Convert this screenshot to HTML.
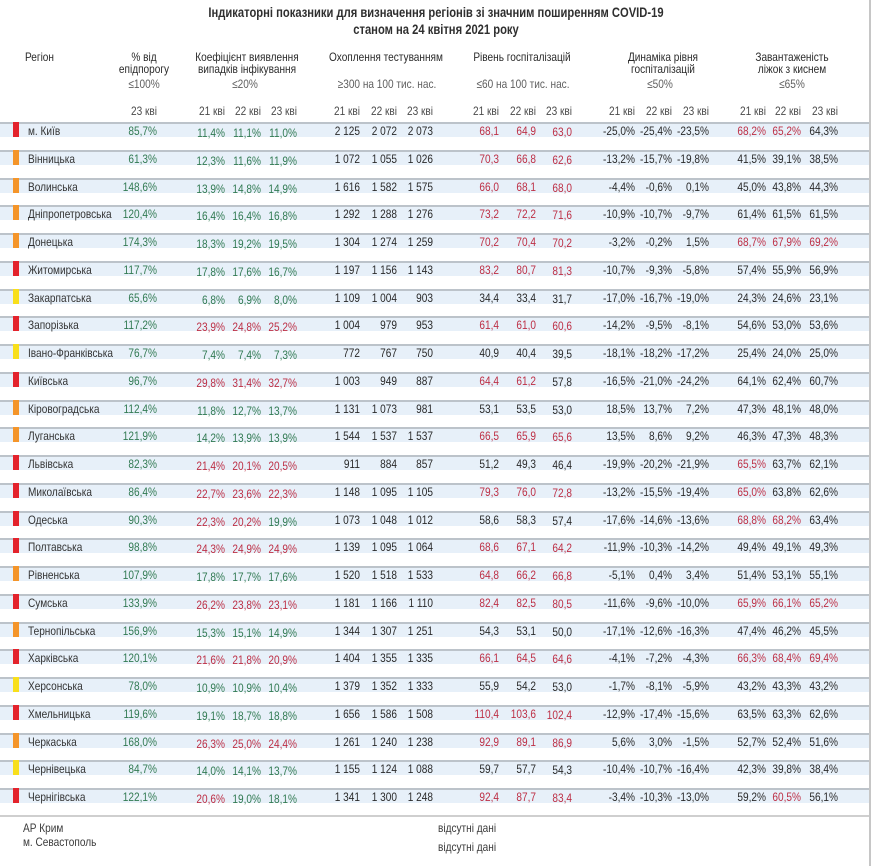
<!DOCTYPE html>
<html><head><meta charset="utf-8">
<style>
*{margin:0;padding:0;box-sizing:border-box}
body{width:872px;height:866px;background:#fff;position:relative;overflow:hidden;font-family:"Liberation Sans",Arial,"Noto Sans CJK SC",sans-serif;font-size:12px;color:#2a2a2a}
.t{position:absolute;left:0;width:872px;text-align:center;font-weight:bold;font-size:14px;line-height:17px;color:#2f2f2f;transform:scaleX(0.8);transform-origin:436px 0}
.h{position:absolute;width:200px;text-align:center;line-height:12px;color:#2a2a2a;transform:scaleX(0.84);transform-origin:center}
.th{position:absolute;width:200px;text-align:center;line-height:14px;color:#5f5f5f;transform:scaleX(0.84);transform-origin:center}
.k{position:absolute;top:104px;width:60px;text-align:right;line-height:14px;color:#4a4a4a;transform:scaleX(0.84);transform-origin:right}
.r{position:absolute;left:0;width:870px;height:15px;border-top:2px solid #bcc3ca;background:#e7f0f9;line-height:14px}
.r i{position:absolute;left:13px;top:-2px;width:6px;height:15px}
.R{background:#e3232c}.O{background:#f4952a}.Y{background:#f8df1c}
.r span{position:absolute;top:0;width:60px;text-align:right;white-space:nowrap;transform:scaleX(0.84);transform-origin:right}
.r span.n{left:28px;width:120px;text-align:left;color:#333;transform-origin:left}
.p{left:97px;color:#317a52}
.a1{left:165px;top:2px!important}.a2{left:201px;top:2px!important}.a3{left:237px;top:2px!important}
.t1{left:300px}.t2{left:337px}.t3{left:373px}
.h1{left:439px}.h2{left:476px}.h3{left:512px;top:1px!important}
.d1{left:575px}.d2{left:612px}.d3{left:649px}
.b1{left:706px}.b2{left:741px}.b3{left:778px}
.g{color:#317a52}.x{color:#bd2f45}
.f{position:absolute;line-height:14px;color:#3a3a3a;transform:scaleX(0.84);transform-origin:left}
</style></head><body>
<div class="t" style="top:4px">Індикаторні показники для визначення регіонів зі значним поширенням COVID-19</div>
<div class="t" style="top:21px">станом на 24 квітня 2021 року</div>

<div class="f" style="left:25px;top:50px;color:#2a2a2a">Регіон</div>
<div class="h" style="left:44px;top:51px">% від<br>епідпорогу</div>
<div class="h" style="left:147px;top:51px">Коефіцієнт виявлення<br>випадків інфікування</div>
<div class="h" style="left:286px;top:51px">Охоплення тестуванням</div>
<div class="h" style="left:422px;top:51px">Рівень госпіталізацій</div>
<div class="h" style="left:563px;top:51px">Динаміка рівня<br>госпіталізацій</div>
<div class="h" style="left:692px;top:51px">Завантаженість<br>ліжок з киснем</div>

<div class="th" style="left:44px;top:77px">≤100%</div>
<div class="th" style="left:145px;top:77px">≤20%</div>
<div class="th" style="left:287px;top:77px">≥300 на 100 тис. нас.</div>
<div class="th" style="left:423px;top:77px">≤60 на 100 тис. нас.</div>
<div class="th" style="left:560px;top:77px">≤50%</div>
<div class="th" style="left:692px;top:77px">≤65%</div>

<div class="k" style="left:97px">23 кві</div>
<div class="k" style="left:165px">21 кві</div><div class="k" style="left:201px">22 кві</div><div class="k" style="left:237px">23 кві</div>
<div class="k" style="left:300px">21 кві</div><div class="k" style="left:337px">22 кві</div><div class="k" style="left:373px">23 кві</div>
<div class="k" style="left:439px">21 кві</div><div class="k" style="left:476px">22 кві</div><div class="k" style="left:512px">23 кві</div>
<div class="k" style="left:575px">21 кві</div><div class="k" style="left:612px">22 кві</div><div class="k" style="left:649px">23 кві</div>
<div class="k" style="left:706px">21 кві</div><div class="k" style="left:741px">22 кві</div><div class="k" style="left:778px">23 кві</div>

<div class="r" style="top:122px"><i class="R"></i><span class="n">м. Київ</span><span class="p">85,7%</span><span class="a1 g">11,4%</span><span class="a2 g">11,1%</span><span class="a3 g">11,0%</span><span class="t1">2 125</span><span class="t2">2 072</span><span class="t3">2 073</span><span class="h1 x">68,1</span><span class="h2 x">64,9</span><span class="h3 x">63,0</span><span class="d1">-25,0%</span><span class="d2">-25,4%</span><span class="d3">-23,5%</span><span class="b1 x">68,2%</span><span class="b2 x">65,2%</span><span class="b3">64,3%</span></div>
<div class="r" style="top:150px"><i class="O"></i><span class="n">Вінницька</span><span class="p">61,3%</span><span class="a1 g">12,3%</span><span class="a2 g">11,6%</span><span class="a3 g">11,9%</span><span class="t1">1 072</span><span class="t2">1 055</span><span class="t3">1 026</span><span class="h1 x">70,3</span><span class="h2 x">66,8</span><span class="h3 x">62,6</span><span class="d1">-13,2%</span><span class="d2">-15,7%</span><span class="d3">-19,8%</span><span class="b1">41,5%</span><span class="b2">39,1%</span><span class="b3">38,5%</span></div>
<div class="r" style="top:178px"><i class="O"></i><span class="n">Волинська</span><span class="p">148,6%</span><span class="a1 g">13,9%</span><span class="a2 g">14,8%</span><span class="a3 g">14,9%</span><span class="t1">1 616</span><span class="t2">1 582</span><span class="t3">1 575</span><span class="h1 x">66,0</span><span class="h2 x">68,1</span><span class="h3 x">68,0</span><span class="d1">-4,4%</span><span class="d2">-0,6%</span><span class="d3">0,1%</span><span class="b1">45,0%</span><span class="b2">43,8%</span><span class="b3">44,3%</span></div>
<div class="r" style="top:205px"><i class="O"></i><span class="n">Дніпропетровська</span><span class="p">120,4%</span><span class="a1 g">16,4%</span><span class="a2 g">16,4%</span><span class="a3 g">16,8%</span><span class="t1">1 292</span><span class="t2">1 288</span><span class="t3">1 276</span><span class="h1 x">73,2</span><span class="h2 x">72,2</span><span class="h3 x">71,6</span><span class="d1">-10,9%</span><span class="d2">-10,7%</span><span class="d3">-9,7%</span><span class="b1">61,4%</span><span class="b2">61,5%</span><span class="b3">61,5%</span></div>
<div class="r" style="top:233px"><i class="O"></i><span class="n">Донецька</span><span class="p">174,3%</span><span class="a1 g">18,3%</span><span class="a2 g">19,2%</span><span class="a3 g">19,5%</span><span class="t1">1 304</span><span class="t2">1 274</span><span class="t3">1 259</span><span class="h1 x">70,2</span><span class="h2 x">70,4</span><span class="h3 x">70,2</span><span class="d1">-3,2%</span><span class="d2">-0,2%</span><span class="d3">1,5%</span><span class="b1 x">68,7%</span><span class="b2 x">67,9%</span><span class="b3 x">69,2%</span></div>
<div class="r" style="top:261px"><i class="R"></i><span class="n">Житомирська</span><span class="p">117,7%</span><span class="a1 g">17,8%</span><span class="a2 g">17,6%</span><span class="a3 g">16,7%</span><span class="t1">1 197</span><span class="t2">1 156</span><span class="t3">1 143</span><span class="h1 x">83,2</span><span class="h2 x">80,7</span><span class="h3 x">81,3</span><span class="d1">-10,7%</span><span class="d2">-9,3%</span><span class="d3">-5,8%</span><span class="b1">57,4%</span><span class="b2">55,9%</span><span class="b3">56,9%</span></div>
<div class="r" style="top:289px"><i class="Y"></i><span class="n">Закарпатська</span><span class="p">65,6%</span><span class="a1 g">6,8%</span><span class="a2 g">6,9%</span><span class="a3 g">8,0%</span><span class="t1">1 109</span><span class="t2">1 004</span><span class="t3">903</span><span class="h1">34,4</span><span class="h2">33,4</span><span class="h3">31,7</span><span class="d1">-17,0%</span><span class="d2">-16,7%</span><span class="d3">-19,0%</span><span class="b1">24,3%</span><span class="b2">24,6%</span><span class="b3">23,1%</span></div>
<div class="r" style="top:316px"><i class="R"></i><span class="n">Запорізька</span><span class="p">117,2%</span><span class="a1 x">23,9%</span><span class="a2 x">24,8%</span><span class="a3 x">25,2%</span><span class="t1">1 004</span><span class="t2">979</span><span class="t3">953</span><span class="h1 x">61,4</span><span class="h2 x">61,0</span><span class="h3 x">60,6</span><span class="d1">-14,2%</span><span class="d2">-9,5%</span><span class="d3">-8,1%</span><span class="b1">54,6%</span><span class="b2">53,0%</span><span class="b3">53,6%</span></div>
<div class="r" style="top:344px"><i class="Y"></i><span class="n">Івано-Франківська</span><span class="p">76,7%</span><span class="a1 g">7,4%</span><span class="a2 g">7,4%</span><span class="a3 g">7,3%</span><span class="t1">772</span><span class="t2">767</span><span class="t3">750</span><span class="h1">40,9</span><span class="h2">40,4</span><span class="h3">39,5</span><span class="d1">-18,1%</span><span class="d2">-18,2%</span><span class="d3">-17,2%</span><span class="b1">25,4%</span><span class="b2">24,0%</span><span class="b3">25,0%</span></div>
<div class="r" style="top:372px"><i class="R"></i><span class="n">Київська</span><span class="p">96,7%</span><span class="a1 x">29,8%</span><span class="a2 x">31,4%</span><span class="a3 x">32,7%</span><span class="t1">1 003</span><span class="t2">949</span><span class="t3">887</span><span class="h1 x">64,4</span><span class="h2 x">61,2</span><span class="h3">57,8</span><span class="d1">-16,5%</span><span class="d2">-21,0%</span><span class="d3">-24,2%</span><span class="b1">64,1%</span><span class="b2">62,4%</span><span class="b3">60,7%</span></div>
<div class="r" style="top:400px"><i class="O"></i><span class="n">Кіровоградська</span><span class="p">112,4%</span><span class="a1 g">11,8%</span><span class="a2 g">12,7%</span><span class="a3 g">13,7%</span><span class="t1">1 131</span><span class="t2">1 073</span><span class="t3">981</span><span class="h1">53,1</span><span class="h2">53,5</span><span class="h3">53,0</span><span class="d1">18,5%</span><span class="d2">13,7%</span><span class="d3">7,2%</span><span class="b1">47,3%</span><span class="b2">48,1%</span><span class="b3">48,0%</span></div>
<div class="r" style="top:427px"><i class="O"></i><span class="n">Луганська</span><span class="p">121,9%</span><span class="a1 g">14,2%</span><span class="a2 g">13,9%</span><span class="a3 g">13,9%</span><span class="t1">1 544</span><span class="t2">1 537</span><span class="t3">1 537</span><span class="h1 x">66,5</span><span class="h2 x">65,9</span><span class="h3 x">65,6</span><span class="d1">13,5%</span><span class="d2">8,6%</span><span class="d3">9,2%</span><span class="b1">46,3%</span><span class="b2">47,3%</span><span class="b3">48,3%</span></div>
<div class="r" style="top:455px"><i class="R"></i><span class="n">Львівська</span><span class="p">82,3%</span><span class="a1 x">21,4%</span><span class="a2 x">20,1%</span><span class="a3 x">20,5%</span><span class="t1">911</span><span class="t2">884</span><span class="t3">857</span><span class="h1">51,2</span><span class="h2">49,3</span><span class="h3">46,4</span><span class="d1">-19,9%</span><span class="d2">-20,2%</span><span class="d3">-21,9%</span><span class="b1 x">65,5%</span><span class="b2">63,7%</span><span class="b3">62,1%</span></div>
<div class="r" style="top:483px"><i class="R"></i><span class="n">Миколаївська</span><span class="p">86,4%</span><span class="a1 x">22,7%</span><span class="a2 x">23,6%</span><span class="a3 x">22,3%</span><span class="t1">1 148</span><span class="t2">1 095</span><span class="t3">1 105</span><span class="h1 x">79,3</span><span class="h2 x">76,0</span><span class="h3 x">72,8</span><span class="d1">-13,2%</span><span class="d2">-15,5%</span><span class="d3">-19,4%</span><span class="b1 x">65,0%</span><span class="b2">63,8%</span><span class="b3">62,6%</span></div>
<div class="r" style="top:511px"><i class="R"></i><span class="n">Одеська</span><span class="p">90,3%</span><span class="a1 x">22,3%</span><span class="a2 x">20,2%</span><span class="a3 g">19,9%</span><span class="t1">1 073</span><span class="t2">1 048</span><span class="t3">1 012</span><span class="h1">58,6</span><span class="h2">58,3</span><span class="h3">57,4</span><span class="d1">-17,6%</span><span class="d2">-14,6%</span><span class="d3">-13,6%</span><span class="b1 x">68,8%</span><span class="b2 x">68,2%</span><span class="b3">63,4%</span></div>
<div class="r" style="top:538px"><i class="R"></i><span class="n">Полтавська</span><span class="p">98,8%</span><span class="a1 x">24,3%</span><span class="a2 x">24,9%</span><span class="a3 x">24,9%</span><span class="t1">1 139</span><span class="t2">1 095</span><span class="t3">1 064</span><span class="h1 x">68,6</span><span class="h2 x">67,1</span><span class="h3 x">64,2</span><span class="d1">-11,9%</span><span class="d2">-10,3%</span><span class="d3">-14,2%</span><span class="b1">49,4%</span><span class="b2">49,1%</span><span class="b3">49,3%</span></div>
<div class="r" style="top:566px"><i class="O"></i><span class="n">Рівненська</span><span class="p">107,9%</span><span class="a1 g">17,8%</span><span class="a2 g">17,7%</span><span class="a3 g">17,6%</span><span class="t1">1 520</span><span class="t2">1 518</span><span class="t3">1 533</span><span class="h1 x">64,8</span><span class="h2 x">66,2</span><span class="h3 x">66,8</span><span class="d1">-5,1%</span><span class="d2">0,4%</span><span class="d3">3,4%</span><span class="b1">51,4%</span><span class="b2">53,1%</span><span class="b3">55,1%</span></div>
<div class="r" style="top:594px"><i class="R"></i><span class="n">Сумська</span><span class="p">133,9%</span><span class="a1 x">26,2%</span><span class="a2 x">23,8%</span><span class="a3 x">23,1%</span><span class="t1">1 181</span><span class="t2">1 166</span><span class="t3">1 110</span><span class="h1 x">82,4</span><span class="h2 x">82,5</span><span class="h3 x">80,5</span><span class="d1">-11,6%</span><span class="d2">-9,6%</span><span class="d3">-10,0%</span><span class="b1 x">65,9%</span><span class="b2 x">66,1%</span><span class="b3 x">65,2%</span></div>
<div class="r" style="top:622px"><i class="O"></i><span class="n">Тернопільська</span><span class="p">156,9%</span><span class="a1 g">15,3%</span><span class="a2 g">15,1%</span><span class="a3 g">14,9%</span><span class="t1">1 344</span><span class="t2">1 307</span><span class="t3">1 251</span><span class="h1">54,3</span><span class="h2">53,1</span><span class="h3">50,0</span><span class="d1">-17,1%</span><span class="d2">-12,6%</span><span class="d3">-16,3%</span><span class="b1">47,4%</span><span class="b2">46,2%</span><span class="b3">45,5%</span></div>
<div class="r" style="top:649px"><i class="R"></i><span class="n">Харківська</span><span class="p">120,1%</span><span class="a1 x">21,6%</span><span class="a2 x">21,8%</span><span class="a3 x">20,9%</span><span class="t1">1 404</span><span class="t2">1 355</span><span class="t3">1 335</span><span class="h1 x">66,1</span><span class="h2 x">64,5</span><span class="h3 x">64,6</span><span class="d1">-4,1%</span><span class="d2">-7,2%</span><span class="d3">-4,3%</span><span class="b1 x">66,3%</span><span class="b2 x">68,4%</span><span class="b3 x">69,4%</span></div>
<div class="r" style="top:677px"><i class="Y"></i><span class="n">Херсонська</span><span class="p">78,0%</span><span class="a1 g">10,9%</span><span class="a2 g">10,9%</span><span class="a3 g">10,4%</span><span class="t1">1 379</span><span class="t2">1 352</span><span class="t3">1 333</span><span class="h1">55,9</span><span class="h2">54,2</span><span class="h3">53,0</span><span class="d1">-1,7%</span><span class="d2">-8,1%</span><span class="d3">-5,9%</span><span class="b1">43,2%</span><span class="b2">43,3%</span><span class="b3">43,2%</span></div>
<div class="r" style="top:705px"><i class="R"></i><span class="n">Хмельницька</span><span class="p">119,6%</span><span class="a1 g">19,1%</span><span class="a2 g">18,7%</span><span class="a3 g">18,8%</span><span class="t1">1 656</span><span class="t2">1 586</span><span class="t3">1 508</span><span class="h1 x">110,4</span><span class="h2 x">103,6</span><span class="h3 x">102,4</span><span class="d1">-12,9%</span><span class="d2">-17,4%</span><span class="d3">-15,6%</span><span class="b1">63,5%</span><span class="b2">63,3%</span><span class="b3">62,6%</span></div>
<div class="r" style="top:733px"><i class="O"></i><span class="n">Черкаська</span><span class="p">168,0%</span><span class="a1 x">26,3%</span><span class="a2 x">25,0%</span><span class="a3 x">24,4%</span><span class="t1">1 261</span><span class="t2">1 240</span><span class="t3">1 238</span><span class="h1 x">92,9</span><span class="h2 x">89,1</span><span class="h3 x">86,9</span><span class="d1">5,6%</span><span class="d2">3,0%</span><span class="d3">-1,5%</span><span class="b1">52,7%</span><span class="b2">52,4%</span><span class="b3">51,6%</span></div>
<div class="r" style="top:760px"><i class="Y"></i><span class="n">Чернівецька</span><span class="p">84,7%</span><span class="a1 g">14,0%</span><span class="a2 g">14,1%</span><span class="a3 g">13,7%</span><span class="t1">1 155</span><span class="t2">1 124</span><span class="t3">1 088</span><span class="h1">59,7</span><span class="h2">57,7</span><span class="h3">54,3</span><span class="d1">-10,4%</span><span class="d2">-10,7%</span><span class="d3">-16,4%</span><span class="b1">42,3%</span><span class="b2">39,8%</span><span class="b3">38,4%</span></div>
<div class="r" style="top:788px"><i class="R"></i><span class="n">Чернігівська</span><span class="p">122,1%</span><span class="a1 x">20,6%</span><span class="a2 g">19,0%</span><span class="a3 g">18,1%</span><span class="t1">1 341</span><span class="t2">1 300</span><span class="t3">1 248</span><span class="h1 x">92,4</span><span class="h2 x">87,7</span><span class="h3 x">83,4</span><span class="d1">-3,4%</span><span class="d2">-10,3%</span><span class="d3">-13,0%</span><span class="b1">59,2%</span><span class="b2 x">60,5%</span><span class="b3">56,1%</span></div>

<div style="position:absolute;left:0;top:815px;width:870px;height:2px;background:#cfcfcf"></div>
<div class="f" style="left:23px;top:821px">АР Крим</div>
<div class="f" style="left:23px;top:835px">м. Севастополь</div>
<div class="f" style="left:438px;top:821px">відсутні дані</div>
<div class="f" style="left:438px;top:840px">відсутні дані</div>

<div style="position:absolute;left:869px;top:0;width:2px;height:866px;background:#c6c6c6"></div>
</body></html>
